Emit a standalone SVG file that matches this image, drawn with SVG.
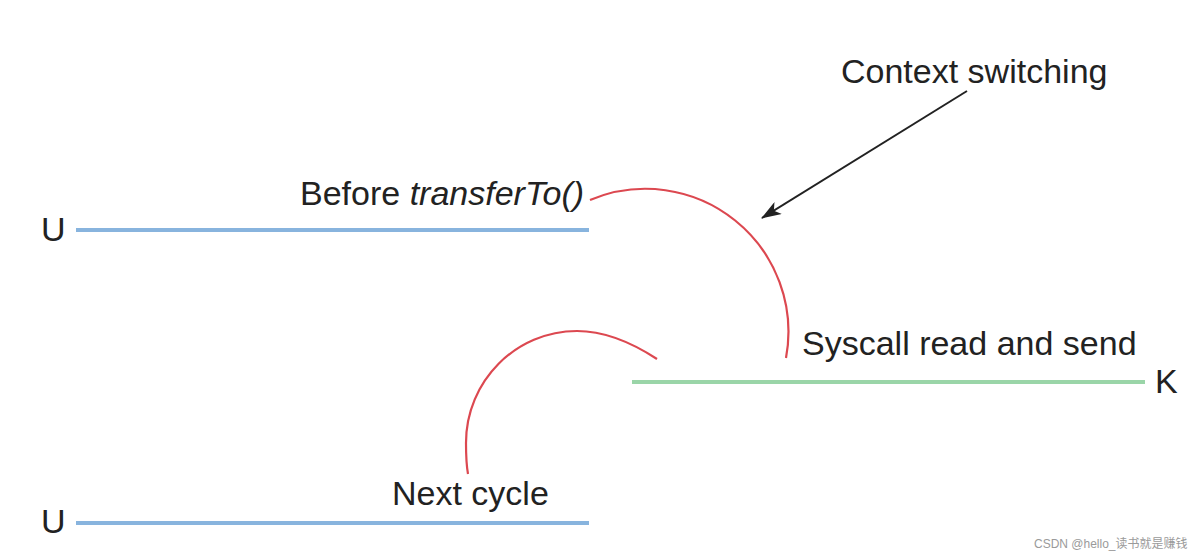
<svg xmlns="http://www.w3.org/2000/svg" width="1200" height="556" viewBox="0 0 1200 556">
<style>
.t{font-family:"Liberation Sans",Arial,sans-serif;font-size:34px;fill:#222}
.u{stroke:#88b4de;stroke-width:4;fill:none}
.k{stroke:#9ad5a8;stroke-width:4;fill:none}
.r{stroke:#dc4850;stroke-width:2.2;fill:none}
.wm{font-family:"Liberation Sans","Noto Sans CJK SC",sans-serif;font-size:12px;fill:#9a9a9a}
</style>
<defs>
<marker id="ah2" viewBox="0 0 20 14" refX="19" refY="7" markerWidth="20" markerHeight="14" markerUnits="userSpaceOnUse" orient="auto">
<path d="M0,0 L20,7 L0,14 L5,7 Z" fill="#222"/>
</marker>
</defs>
<rect width="1200" height="556" fill="#fff"/>
<g id="u-top">
<text class="t" x="41" y="241">U</text>
<line class="u" x1="76" y1="230" x2="589" y2="230"/>
<text class="t" x="300" y="205">Before <tspan font-style="italic">transferTo()</tspan></text>
</g>
<g id="kernel">
<line class="k" x1="632" y1="382" x2="1145" y2="382"/>
<text class="t" x="1155" y="393">K</text>
<text class="t" x="802" y="355">Syscall read and send</text>
</g>
<g id="u-bottom">
<text class="t" x="41" y="533">U</text>
<line class="u" x1="76" y1="523" x2="589" y2="523"/>
<text class="t" x="392" y="505">Next cycle</text>
</g>
<g id="context-label">
<text class="t" x="841" y="83">Context switching</text>
</g>
<g id="connectors">
<path class="r" d="M590,200 A143,143 0 0 1 786,358"/>
<path class="r" d="M468,474 C466,463 466,453 466,443 C466,381 516,331 577,331 C605,331 634,344 657,359"/>
<line x1="967" y1="91" x2="762" y2="218" stroke="#222" stroke-width="2" marker-end="url(#ah2)"/>
</g>
<text class="wm" x="1034" y="548">CSDN @hello_读书就是赚钱</text>
</svg>
